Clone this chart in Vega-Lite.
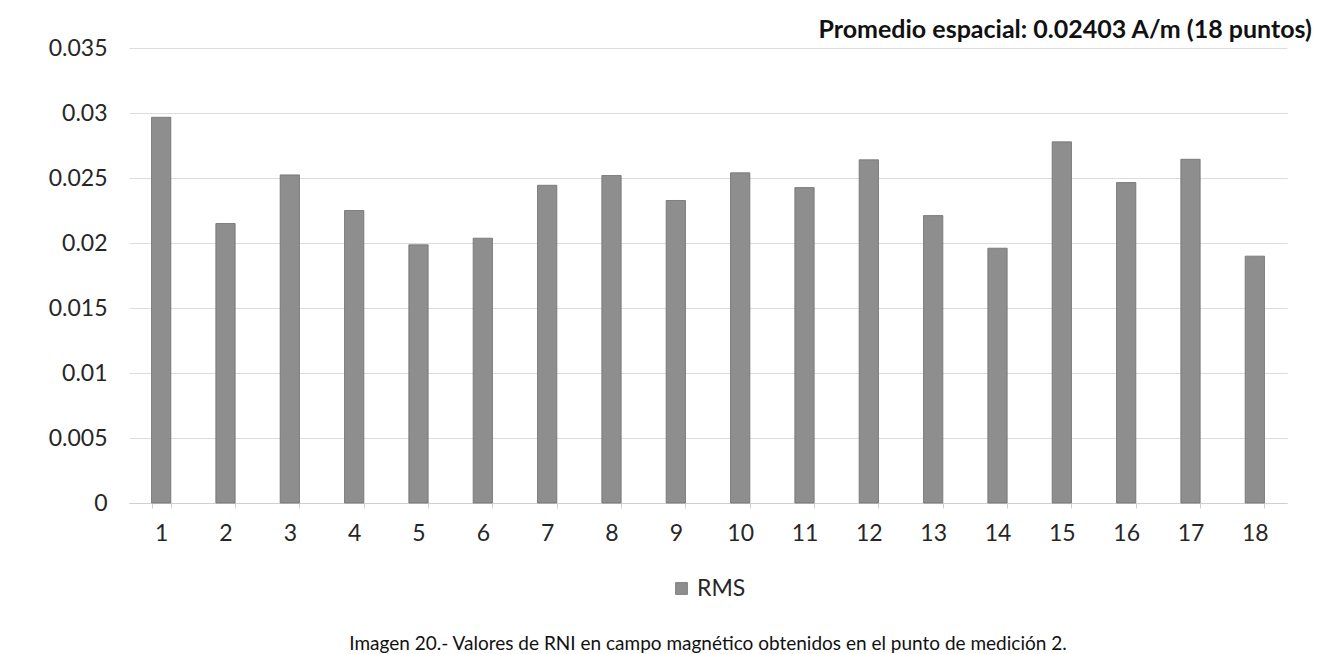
{
  "$schema": "https://vega.github.io/schema/vega-lite/v6.json",
  "width": 1158,
  "height": 455,
  "padding": {"left": 48, "top": 18, "right": 5, "bottom": 2},
  "background": "white",
  "title": {
    "text": "Imagen 20.- Valores de RNI en campo magnético obtenidos en el punto de medición 2.",
    "orient": "bottom",
    "anchor": "middle",
    "frame": "group",
    "font": "Lato",
    "fontSize": 19,
    "fontWeight": "normal",
    "color": "#111111",
    "offset": 34
  },
  "config": {
    "view": {"stroke": null},
    "font": "Lato",
    "legend": {"layout": {"bottom": {"anchor": "middle"}}}
  },
  "layer": [
    {
      "data": {
        "values": [
          {"punto": "1", "rms": 0.02967, "serie": "RMS"},
          {"punto": "2", "rms": 0.0215, "serie": "RMS"},
          {"punto": "3", "rms": 0.02524, "serie": "RMS"},
          {"punto": "4", "rms": 0.0225, "serie": "RMS"},
          {"punto": "5", "rms": 0.01986, "serie": "RMS"},
          {"punto": "6", "rms": 0.02037, "serie": "RMS"},
          {"punto": "7", "rms": 0.02444, "serie": "RMS"},
          {"punto": "8", "rms": 0.02519, "serie": "RMS"},
          {"punto": "9", "rms": 0.02327, "serie": "RMS"},
          {"punto": "10", "rms": 0.0254, "serie": "RMS"},
          {"punto": "11", "rms": 0.02426, "serie": "RMS"},
          {"punto": "12", "rms": 0.0264, "serie": "RMS"},
          {"punto": "13", "rms": 0.02211, "serie": "RMS"},
          {"punto": "14", "rms": 0.0196, "serie": "RMS"},
          {"punto": "15", "rms": 0.02778, "serie": "RMS"},
          {"punto": "16", "rms": 0.02465, "serie": "RMS"},
          {"punto": "17", "rms": 0.02644, "serie": "RMS"},
          {"punto": "18", "rms": 0.01899, "serie": "RMS"}
        ]
      },
      "mark": {"type": "bar", "stroke": "#6f6f6f", "strokeWidth": 0.8},
      "encoding": {
        "x": {
          "field": "punto",
          "type": "ordinal",
          "sort": null,
          "scale": {"paddingInner": 0.7, "paddingOuter": 0.35},
          "axis": {
            "title": null,
            "labelAngle": 0,
            "labelFont": "Lato",
            "labelFontSize": 23,
            "labelColor": "#262626",
            "labelPadding": 14,
            "domainColor": "#d0d0d0",
            "tickColor": "#d0d0d0",
            "tickSize": 5,
            "tickBand": "extent",
            "grid": false
          }
        },
        "y": {
          "field": "rms",
          "type": "quantitative",
          "scale": {"domain": [0, 0.035], "nice": false},
          "axis": {
            "title": null,
            "values": [0, 0.005, 0.01, 0.015, 0.02, 0.025, 0.03, 0.035],
            "format": "~g",
            "domain": false,
            "ticks": false,
            "labelPadding": 22,
            "labelFont": "Lato",
            "labelFontSize": 23,
            "labelColor": "#262626",
            "gridColor": "#dcdcdc",
            "gridWidth": 1
          }
        },
        "color": {
          "field": "serie",
          "type": "nominal",
          "scale": {"range": ["#8e8e8e"]},
          "legend": {
            "title": null,
            "orient": "bottom",
            "direction": "horizontal",
            "symbolType": "square",
            "symbolSize": 140,
            "symbolStrokeColor": "#6f6f6f",
            "symbolStrokeWidth": 0.8,
            "labelFont": "Lato",
            "labelFontSize": 23,
            "labelColor": "#262626",
            "offset": 32
          }
        }
      }
    },
    {
      "data": {
        "values": [
          {"punto": "18", "rms": 0.035, "label": "Promedio espacial: 0.02403 A/m (18 puntos)"}
        ]
      },
      "mark": {
        "type": "text",
        "align": "right",
        "baseline": "bottom",
        "font": "Lato",
        "fontSize": 25,
        "fontWeight": "bold",
        "color": "#111111",
        "dx": 57,
        "dy": -5
      },
      "encoding": {
        "x": {"field": "punto", "type": "ordinal", "sort": null},
        "y": {"field": "rms", "type": "quantitative"},
        "text": {"field": "label"}
      }
    }
  ]
}
